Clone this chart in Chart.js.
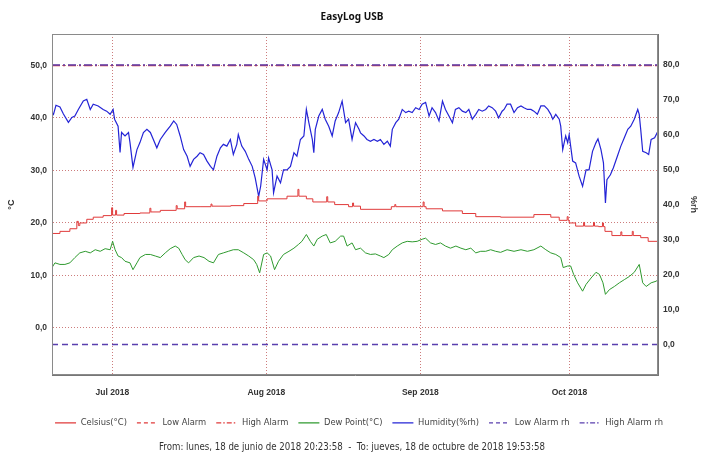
<!DOCTYPE html>
<html lang="es">
<head>
<meta charset="UTF-8" />
<title>EasyLog USB</title>
<style>
    body { margin: 0; background: #ffffff; }
    #chart { display: block; }
</style>
</head>
<body>
<canvas id="chart" width="704" height="456"></canvas>

<script src="https://cdn.jsdelivr.net/npm/chart.js"></script>
<script>
    // days counted from the first reading (lunes 18 jun 2018 20:23:58)
    const endDay = 121.98;
    const monthDays = [12.15, 43.15, 74.15, 104.15];
    const monthLabels = ["Jul 2018", "Aug 2018", "Sep 2018", "Oct 2018"];
    const celsiusTicks = [0, 10, 20, 30, 40, 50];
    const rhTicks = [0, 10, 20, 30, 40, 50, 60, 70, 80];

    // alarm levels
    const lowAlarmC = -10;
    const highAlarmC = 50;
    const lowAlarmRh = 0;
    const highAlarmRh = 80;

    // Celsius (stepped logger readings, with short spikes)
    const celsiusDays = [
        0, 1.6, 3.6, 5.0, 5.3, 5.6, 7.0, 8.3, 10.3, 12.0,
        12.2, 12.8, 13.0, 14.5, 17.7, 19.7, 19.9, 21.8, 25.0, 25.2,
        26.7, 26.9, 29.8, 32.0, 32.2, 36.0, 38.6, 41.4, 41.6, 43.3,
        47.3, 49.5, 49.7, 51.2, 52.5, 55.3, 55.5, 56.9, 59.7, 60.5,
        60.7, 62.1, 68.3, 69.0, 69.2, 74.7, 74.9, 75.3, 78.6, 82.6,
        85.3, 90.3, 97.0, 100.4, 102.1, 103.7, 103.9, 104.1, 105.4, 107.0,
        107.2, 109.0, 109.2, 110.0, 110.8, 111.0, 111.3, 112.7, 114.5, 114.7,
        116.8, 117.0, 118.5, 120.0, 121.98
    ];
    const celsius = [
        18.0, 18.4, 18.9, 20.3, 19.5, 20.0, 20.7, 21.1, 21.4, 22.9,
        21.5, 22.4, 21.5, 21.8, 21.9, 22.8, 22.1, 22.4, 23.3, 22.7,
        24.0, 23.1, 23.1, 23.6, 23.2, 23.3, 23.7, 25.1, 24.2, 24.6,
        25.1, 26.4, 25.1, 24.6, 24.0, 25.0, 24.0, 23.5, 23.1, 23.8,
        23.2, 22.6, 23.1, 23.5, 23.1, 24.0, 23.1, 22.7, 22.3, 21.8,
        21.2, 21.1, 21.6, 21.1, 20.5, 21.2, 20.5, 20.0, 19.4, 20.1,
        19.4, 20.1, 19.4, 19.3, 20.0, 19.3, 18.4, 17.6, 18.3, 17.6,
        18.4, 17.6, 17.2, 16.5, 16.5
    ];

    // Dew point (°C)
    const dewDays = [
        0, 0.6, 1.6, 2.6, 3.6, 4.6, 5.6, 6.7, 7.7, 8.7,
        9.7, 10.7, 11.7, 12.2, 12.7, 13.3, 14.0, 14.7, 15.7, 16.3,
        17.1, 17.7, 18.8, 19.8, 20.8, 21.8, 22.8, 23.8, 24.8, 25.5,
        26.2, 26.8, 27.5, 28.5, 29.6, 30.6, 31.6, 32.5, 33.5, 34.5,
        35.5, 36.5, 37.5, 38.6, 39.6, 40.6, 41.2, 41.8, 42.6, 43.3,
        44.0, 44.8, 45.6, 46.6, 47.7, 48.7, 49.6, 50.3, 51.2, 52.0,
        52.7, 53.4, 54.4, 55.2, 56.0, 57.0, 58.1, 58.7, 59.4, 60.4,
        61.1, 62.1, 63.1, 64.1, 65.1, 66.1, 66.8, 67.8, 68.5, 69.5,
        70.5, 71.5, 72.5, 73.5, 74.5, 75.2, 76.2, 77.2, 78.2, 79.2,
        80.2, 81.3, 82.3, 83.3, 84.3, 85.3, 86.3, 87.3, 88.3, 89.3,
        90.3, 91.6, 93.0, 94.4, 95.7, 97.0, 98.4, 99.4, 100.4, 101.4,
        102.4, 102.9, 103.8, 104.4, 105.0, 105.8, 106.8, 107.5, 108.5, 109.5,
        110.2, 110.9, 111.4, 112.2, 113.2, 114.2, 115.2, 116.2, 117.2, 118.2,
        118.9, 119.6, 120.6, 121.6, 121.98
    ];
    const dewPoint = [
        11.5, 12.4, 12.1, 12.1, 12.4, 13.4, 14.3, 14.6, 14.3, 14.9,
        14.6, 15.1, 14.9, 16.5, 14.9, 13.7, 13.4, 12.7, 12.4, 11.1,
        12.4, 13.4, 14.0, 14.0, 13.7, 13.4, 14.3, 15.1, 15.6, 15.2,
        14.0, 13.0, 12.4, 13.4, 13.7, 13.4, 12.7, 12.4, 14.0, 14.3,
        14.6, 14.9, 14.9, 14.3, 13.7, 13.0, 12.1, 10.5, 14.0, 14.3,
        13.7, 11.1, 12.7, 14.0, 14.6, 15.2, 15.9, 16.5, 17.8, 16.5,
        15.6, 16.9, 17.5, 17.8, 16.2, 16.5, 17.5, 17.5, 15.6, 16.2,
        14.9, 15.2, 14.3, 14.0, 14.1, 13.7, 13.4, 14.0, 14.9, 15.6,
        16.2, 16.5, 16.4, 16.5, 16.9, 17.1, 16.2, 15.9, 16.2, 15.6,
        15.2, 15.6, 15.2, 14.9, 15.2, 14.3, 14.6, 14.6, 14.9, 14.6,
        14.4, 14.9, 14.6, 14.9, 14.6, 14.9, 15.6, 14.9, 14.3, 14.0,
        13.4, 11.5, 11.8, 11.8, 10.2, 8.6, 7.0, 8.3, 9.5, 10.6,
        10.2, 8.6, 6.4, 7.3, 7.9, 8.6, 9.2, 9.8, 10.6, 12.1,
        8.6, 7.9, 8.6, 8.9, 9.2
    ];

    // Humidity (%rh)
    const humidityDays = [
        0, 0.3, 0.8, 1.6, 2.3, 3.3, 4.0, 4.6, 5.3, 6.3,
        7.0, 7.7, 8.3, 9.3, 10.3, 11.0, 11.7, 12.3, 12.6, 13.3,
        13.7, 14.0, 14.7, 15.4, 15.7, 16.3, 17.1, 17.7, 18.4, 19.1,
        19.8, 20.4, 21.1, 21.8, 22.8, 23.8, 24.5, 25.1, 25.8, 26.5,
        27.2, 27.8, 28.5, 29.2, 29.8, 30.5, 31.2, 31.9, 32.5, 33.2,
        33.9, 34.5, 35.2, 35.9, 36.5, 37.2, 37.5, 38.2, 38.9, 39.6,
        40.3, 40.9, 41.6, 42.0, 42.6, 43.3, 43.6, 44.3, 44.6, 45.3,
        46.0, 46.6, 47.3, 48.0, 48.7, 49.3, 50.0, 50.7, 51.2, 51.7,
        52.4, 52.7, 53.0, 53.7, 54.4, 55.0, 55.7, 56.4, 57.0, 57.7,
        58.4, 59.1, 59.7, 60.4, 61.1, 61.8, 62.1, 62.8, 63.4, 64.1,
        64.8, 65.5, 66.1, 66.8, 67.5, 68.1, 68.5, 69.2, 69.8, 70.5,
        71.2, 71.8, 72.5, 73.2, 73.9, 74.5, 75.2, 75.9, 76.5, 77.2,
        77.9, 78.6, 79.2, 79.9, 80.6, 81.2, 81.9, 82.6, 83.3, 83.9,
        84.6, 85.3, 85.9, 86.6, 87.3, 87.9, 88.6, 89.3, 89.9, 90.6,
        91.0, 91.6, 92.3, 93.0, 93.7, 94.4, 95.0, 95.7, 96.4, 97.0,
        97.7, 98.4, 99.1, 99.8, 100.4, 100.8, 101.4, 102.1, 102.4, 102.8,
        103.1, 103.4, 103.8, 104.1, 104.4, 104.8, 105.4, 106.1, 106.8, 107.5,
        108.1, 108.8, 109.5, 109.9, 110.5, 111.0, 111.4, 111.7, 112.4, 113.0,
        113.8, 114.5, 115.2, 115.9, 116.5, 117.2, 117.9, 118.2, 118.5, 118.9,
        119.6, 120.1, 120.6, 121.3, 121.98
    ];
    const humidity = [
        66.5, 65.9, 68.5, 68.0, 66.0, 63.6, 65.0, 65.4, 67.3, 69.7,
        70.2, 67.3, 68.8, 68.3, 67.3, 66.8, 65.9, 67.3, 64.5, 62.5,
        55.0, 60.7, 59.7, 60.7, 57.8, 50.7, 55.8, 57.8, 60.7, 61.6,
        60.7, 58.7, 56.3, 58.7, 60.7, 62.5, 64.0, 63.0, 59.7, 55.8,
        53.9, 51.0, 53.0, 53.9, 54.9, 54.4, 52.5, 51.0, 50.0, 53.9,
        56.3, 57.3, 56.8, 58.7, 54.4, 57.3, 60.1, 56.8, 55.3, 53.0,
        51.0, 47.7, 42.4, 45.3, 53.0, 50.0, 53.4, 50.0, 43.4, 48.2,
        46.3, 50.0, 50.0, 51.0, 54.9, 53.9, 58.7, 59.7, 67.3, 63.5,
        58.7, 54.9, 61.6, 65.4, 67.3, 64.5, 62.5, 59.7, 64.0, 66.4,
        69.7, 63.5, 64.5, 58.7, 63.5, 61.6, 60.6, 59.7, 58.7, 58.2,
        58.7, 58.2, 58.7, 57.3, 58.2, 56.8, 61.6, 63.5, 64.5, 67.3,
        66.4, 66.8, 66.4, 67.8, 67.3, 68.8, 69.3, 65.4, 67.8, 66.4,
        64.0, 69.7, 67.3, 65.4, 63.5, 67.3, 67.8, 66.8, 66.4, 67.3,
        64.5, 65.9, 67.3, 66.8, 67.3, 68.3, 67.8, 66.8, 64.9, 66.8,
        67.3, 68.8, 68.8, 66.4, 67.8, 68.3, 67.8, 67.3, 67.3, 66.8,
        65.9, 68.3, 68.3, 67.3, 65.9, 64.5, 65.9, 64.5, 62.5, 55.8,
        57.8, 59.7, 57.8, 60.1, 56.8, 52.5, 52.0, 48.2, 45.3, 50.0,
        50.0, 55.3, 57.8, 58.9, 55.8, 52.0, 40.5, 47.2, 48.6, 50.6,
        53.9, 56.8, 59.2, 61.6, 62.5, 64.5, 67.3, 65.9, 61.6, 55.3,
        54.9, 54.4, 58.7, 59.2, 61.1
    ];

    const narrowFont = "'DejaVu Sans Condensed', 'Liberation Sans Narrow', sans-serif";
    const axisFont = "'Liberation Sans', Arial, sans-serif";
    const gridColor = "rgba(200, 110, 110, 0.9)";
    const alarmPurple = "#5a3fae";
    const dashed = [6, 4];
    const dashDot = [8, 3, 2, 3];

    function points(days, values) {
        return days.map((d, i) => ({ x: d, y: values[i] }));
    }

    function flat(value) {
        return [{ x: 0, y: value }, { x: endDay, y: value }];
    }

    function commaLabel(v) {
        return Number(v).toFixed(1).replace(".", ",");
    }

    // grey frame round the plot area (top and right too)
    const framePlugin = {
        id: "frame",
        afterDraw(chart) {
            const a = chart.chartArea;
            const ctx = chart.ctx;
            ctx.save();
            ctx.strokeStyle = "#8a8a8a";
            ctx.lineWidth = 1;
            ctx.strokeRect(Math.round(a.left) + 0.5, Math.round(a.top) + 0.5,
                Math.round(a.right - a.left) - 1, Math.round(a.bottom - a.top) - 1);
            ctx.restore();
        }
    };

    // the legend row sits a little right of centre in the original
    const legendShift = {
        id: "legendShift",
        afterLayout(chart) {
            chart.legend.left += 7;
            chart.legend.right += 7;
        }
    };

    const ctx = document.getElementById("chart").getContext("2d");

    new Chart(ctx, {
        type: "line",
        data: {
            datasets: [
                {
                    label: "Celsius(°C)",
                    data: points(celsiusDays, celsius),
                    borderColor: "#e03a3a",
                    borderWidth: 1,
                    stepped: true,
                    yAxisID: "y"
                },
                {
                    label: "Low Alarm",
                    data: flat(lowAlarmC),
                    borderColor: "#e03a3a",
                    borderWidth: 1.5,
                    borderDash: dashed,
                    legendDash: [4, 3],
                    yAxisID: "y"
                },
                {
                    label: "High Alarm",
                    data: flat(highAlarmC),
                    borderColor: "#e03a3a",
                    borderWidth: 1.5,
                    borderDash: dashDot,
                    legendDash: [5, 2, 1.5, 2],
                    yAxisID: "y"
                },
                {
                    label: "Dew Point(°C)",
                    data: points(dewDays, dewPoint),
                    borderColor: "#2f9a2f",
                    borderWidth: 1,
                    yAxisID: "y"
                },
                {
                    label: "Humidity(%rh)",
                    data: points(humidityDays, humidity),
                    borderColor: "#2424d6",
                    borderWidth: 1.2,
                    yAxisID: "y1"
                },
                {
                    label: "Low Alarm rh",
                    data: flat(lowAlarmRh),
                    borderColor: alarmPurple,
                    borderWidth: 1.5,
                    borderDash: dashed,
                    legendDash: [4, 3],
                    yAxisID: "y1",
                    order: -1
                },
                {
                    label: "High Alarm rh",
                    data: flat(highAlarmRh),
                    borderColor: alarmPurple,
                    borderWidth: 1.5,
                    borderDash: dashDot,
                    legendDash: [5, 2, 1.5, 2],
                    yAxisID: "y1",
                    order: -1
                }
            ]
        },
        options: {
            responsive: false,
            animation: false,
            elements: {
                point: { radius: 0 },
                line: { tension: 0 }
            },
            layout: { padding: 0 },
            plugins: {
                title: {
                    display: true,
                    text: "EasyLog USB",
                    color: "#111111",
                    font: { family: "'Noto Sans', 'Open Sans', sans-serif", size: 10, weight: "bold" },
                    padding: { top: 11, bottom: 11 }
                },
                subtitle: {
                    display: true,
                    position: "bottom",
                    text: "From: lunes, 18 de junio de 2018 20:23:58  -  To: jueves, 18 de octubre de 2018 19:53:58",
                    color: "#333333",
                    font: { family: narrowFont, size: 9.6 },
                    padding: { top: 4, bottom: 3 }
                },
                legend: {
                    position: "bottom",
                    labels: {
                        usePointStyle: true,
                        pointStyle: "line",
                        pointStyleWidth: 21,
                        padding: 10,
                        color: "#444444",
                        font: { family: narrowFont, size: 9.3 },
                        sort: (a, b) => a.datasetIndex - b.datasetIndex,
                        generateLabels: chart => {
                            const items = Chart.defaults.plugins.legend.labels.generateLabels(chart);
                            items.forEach(item => {
                                const ds = chart.data.datasets[item.datasetIndex];
                                item.lineDash = ds.legendDash || [];
                                item.lineWidth = 1.2;
                            });
                            return items;
                        }
                    }
                },
                tooltip: { enabled: false }
            },
            scales: {
                x: {
                    type: "linear",
                    min: 0,
                    max: endDay,
                    afterBuildTicks: s => { s.ticks = monthDays.map(v => ({ value: v })); },
                    afterFit: s => { s.height = 33; },
                    ticks: {
                        autoSkip: false,
                        maxRotation: 0,
                        padding: 12,
                        color: "#333333",
                        font: { family: axisFont, size: 8.5, weight: "bold" },
                        callback: (v, i) => monthLabels[i]
                    },
                    grid: { color: gridColor, drawTicks: false, lineWidth: 1 },
                    border: { color: "#777777", dash: [1, 2] }
                },
                y: {
                    position: "left",
                    min: -9,
                    max: 56,
                    afterBuildTicks: s => { s.ticks = celsiusTicks.map(v => ({ value: v })); },
                    afterFit: s => { s.width = 52; },
                    ticks: {
                        padding: 5,
                        color: "#333333",
                        font: { family: axisFont, size: 8.5, weight: "bold" },
                        callback: v => commaLabel(v)
                    },
                    grid: { color: gridColor, drawTicks: false, lineWidth: 1 },
                    border: { color: "#777777", dash: [1, 2] },
                    title: {
                        display: true,
                        text: "°C",
                        color: "#333333",
                        font: { family: axisFont, size: 9, weight: "bold" },
                        padding: { top: 6, bottom: 0 }
                    }
                },
                y1: {
                    position: "right",
                    min: -8.8,
                    max: 88.9,
                    afterBuildTicks: s => { s.ticks = rhTicks.map(v => ({ value: v })); },
                    afterFit: s => { s.width = 46; },
                    ticks: {
                        padding: 5,
                        color: "#333333",
                        font: { family: axisFont, size: 8.5, weight: "bold" },
                        callback: v => commaLabel(v)
                    },
                    grid: { drawOnChartArea: false, drawTicks: false },
                    border: { color: "#777777" },
                    title: {
                        display: true,
                        text: "%rh",
                        color: "#333333",
                        font: { family: axisFont, size: 9, weight: "bold" },
                        padding: { top: 5, bottom: 0 }
                    }
                }
            }
        },
        plugins: [framePlugin, legendShift]
    });
</script>
</body>
</html>
